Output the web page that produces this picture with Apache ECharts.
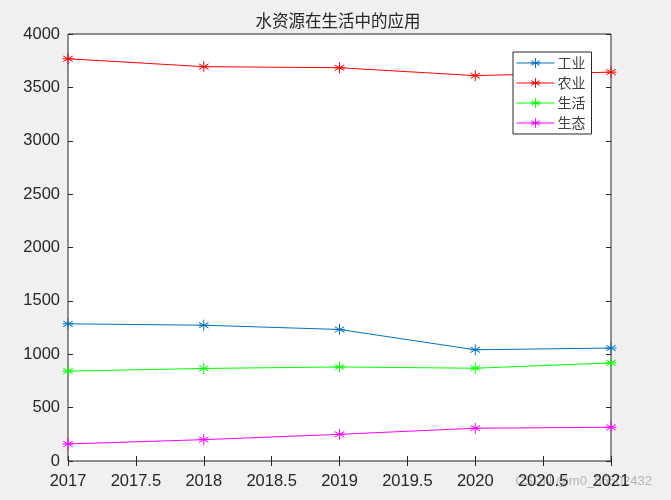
<!DOCTYPE html>
<html><head><meta charset="utf-8">
<script src="https://cdn.jsdelivr.net/npm/echarts@6/dist/echarts.min.js"></script>
<style>html,body{margin:0;padding:0;background:#f0f0f0}#c{width:671px;height:500px}</style>
</head><body><div id="c"></div>
<script>
const years = [2017, 2018, 2019, 2020, 2021];
const seriesNames = ['工业', '农业', '生活', '生态'];
const industry = [1285, 1272, 1232, 1042, 1058];
const agriculture = [3768, 3694, 3684, 3610, 3643];
const living = [842, 867, 881, 869, 919];
const ecology = [160, 200, 250, 307, 316];
const colors = ['#0072BD', '#FF0000', '#00FF00', '#FF00FF'];
const allValues = [industry, agriculture, living, ecology];

const star = 'path://M0,-5L0,5M-4.33,-2.5L4.33,2.5M-4.33,2.5L4.33,-2.5M-5,0L5,0';
const tickColor = '#262626';
const font = 'Liberation Sans';
const fmt = v => String(v);
const labelSize = 16.5;

const chart = echarts.init(document.getElementById('c'));
function ax(extra) {
  return Object.assign({
    type: 'value',
    axisLine: { show: false },
    axisTick: { show: true, inside: true, length: 5, lineStyle: { color: tickColor, width: 1 } },
    splitLine: { show: false },
    axisLabel: { color: tickColor, fontSize: labelSize, fontFamily: font, formatter: fmt }
  }, extra);
}
chart.setOption({
  backgroundColor: '#f0f0f0',
  animation: false,
  title: {
    text: '水资源在生活中的应用', left: 333, top: 7, textAlign: 'center',
    textStyle: { fontFamily: 'Noto Sans CJK SC', fontWeight: 'normal', fontSize: 16.5, color: '#262626' }
  },
  grid: { left: 68, right: 60, top: 34, bottom: 39, show: true, backgroundColor: '#ffffff', borderColor: tickColor, borderWidth: 1 },
  legend: {
    orient: 'vertical', left: 513, top: 52, data: seriesNames,
    backgroundColor: '#ffffff', borderColor: '#262626', borderWidth: 1, borderRadius: 0,
    padding: [4, 6, 4, 3], itemGap: 6, itemWidth: 38, itemHeight: 12,
    lineStyle: { width: 1 },
    itemStyle: { borderWidth: 1 },
    textStyle: { fontFamily: 'Noto Sans CJK SC', fontSize: 14, color: '#404040', padding: [0, 0, 0, -2] }
  },
  xAxis: [
    ax({ min: 2017, max: 2021, interval: 0.5, position: 'bottom', axisLabel: { color: tickColor, fontSize: labelSize, fontFamily: font, margin: 12, formatter: fmt } }),
    ax({ min: 2017, max: 2021, interval: 0.5, position: 'top', axisLabel: { show: false } })
  ],
  yAxis: [
    ax({ min: 0, max: 4000, interval: 500, position: 'left', axisLabel: { color: tickColor, fontSize: labelSize, fontFamily: font, margin: 8, formatter: fmt } }),
    ax({ min: 0, max: 4000, interval: 500, position: 'right', axisLabel: { show: false } })
  ],
  series: seriesNames.map((n, i) => ({
    name: n, type: 'line', xAxisIndex: 0, yAxisIndex: 0,
    data: years.map((y, j) => [y, allValues[i][j]]),
    symbol: star, symbolSize: 11, showAllSymbol: true,
    lineStyle: { color: colors[i], width: 1 },
    itemStyle: { color: 'rgba(0,0,0,0)', borderColor: colors[i], borderWidth: 1 },
    emphasis: { disabled: true }
  })),
  graphic: [{
    type: 'text', right: 19, top: 475,
    style: { text: 'CSDN @m0_55502432', fill: 'rgba(160,160,160,0.75)', font: '13px "Liberation Sans"' }
  }]
});
</script></body></html>
